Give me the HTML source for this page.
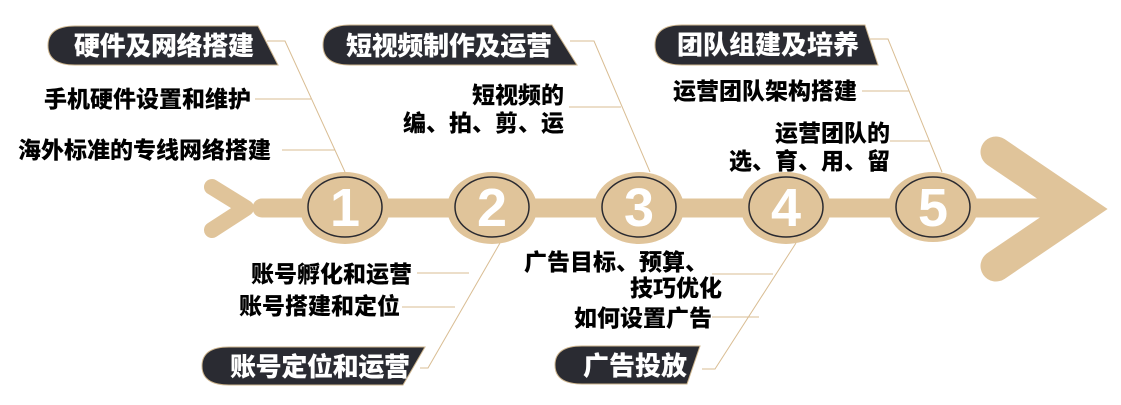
<!DOCTYPE html>
<html><head><meta charset="utf-8"><style>
html,body{margin:0;padding:0;background:#fff;width:1121px;height:405px;overflow:hidden}
svg text{font-family:"Liberation Sans","Noto Sans CJK SC",sans-serif;font-weight:900}
</style></head><body>
<svg width="1121" height="405" viewBox="0 0 1121 405" xmlns="http://www.w3.org/2000/svg">
<g stroke="#d9bd93" stroke-width="1" fill="none">
<polyline points="267,41 285,41 345,172"/>
<line x1="255" y1="99" x2="311" y2="99"/>
<line x1="282" y1="150" x2="335" y2="150"/>
<polyline points="570,41 594,41 650,172"/>
<line x1="569" y1="107" x2="621" y2="107"/>
<polyline points="865,39 888,39 942,172"/>
<line x1="862" y1="91" x2="909" y2="91"/>
<line x1="890" y1="141" x2="930" y2="141"/>
<polyline points="500,243 428,368 420,368"/>
<line x1="417" y1="273" x2="469" y2="273"/>
<line x1="402" y1="307" x2="455" y2="307"/>
<polyline points="796,243 715,369 702,369"/>
<line x1="712" y1="274" x2="773" y2="274"/>
<line x1="712" y1="317" x2="759" y2="317"/>
</g>
<g stroke="#e0c49a" fill="none" stroke-linecap="round">
<polyline points="212,187 246,208 212,230" stroke-width="16" stroke-linejoin="round"/>
<line x1="262" y1="208" x2="1060" y2="208" stroke-width="19" stroke-linecap="round"/>
<polyline points="996,152 1080,209 996,266" stroke-width="31" stroke-linejoin="miter" stroke-miterlimit="10"/>
</g>
<g fill="#e0c49a">
<ellipse cx="345" cy="208" rx="45" ry="36"/>
<ellipse cx="492" cy="208" rx="45" ry="36"/>
<ellipse cx="639" cy="208" rx="45" ry="36"/>
<ellipse cx="786" cy="208" rx="45" ry="36"/>
<ellipse cx="933" cy="207" rx="45" ry="35"/>
</g>
<g fill="none" stroke="#2a2a30" stroke-width="1.5">
<ellipse cx="345" cy="207" rx="37" ry="30"/>
<ellipse cx="492" cy="207" rx="37" ry="30"/>
<ellipse cx="639" cy="207" rx="37" ry="30"/>
<ellipse cx="786" cy="207" rx="37" ry="30"/>
<ellipse cx="933" cy="207" rx="37" ry="30"/>
</g>
<g fill="#fff" font-size="54" text-anchor="middle">
<text x="345" y="226">1</text><text x="492" y="226">2</text><text x="639" y="226">3</text><text x="786" y="226">4</text><text x="933" y="226">5</text>
</g>
<g fill="#2a2b32" stroke="#cdb58e" stroke-width="1">
<path d="M75,26 L258,26 L278,65 L75,65 Q48,65 48,45.5 Q48,26 75,26Z"/>
<path d="M350,25 L552,25 L577,65 L350,65 Q323,65 323,45 Q323,25 350,25Z"/>
<path d="M682,25 L865,25 L878,65 L682,65 Q655,65 655,45 Q655,25 682,25Z"/>
<path d="M229,347 L425,347 L403,385 L229,385 Q202,385 202,366 Q202,347 229,347Z"/>
<path d="M582,346 L700,346 L687,384 L582,384 Q555,384 555,365 Q555,346 582,346Z"/>
</g>
<g fill="#fff" font-size="26">
<text x="74" y="55" textLength="180">硬件及网络搭建</text>
<text x="346" y="55" textLength="206">短视频制作及运营</text>
<text x="677" y="54" textLength="182">团队组建及培养</text>
<text x="230" y="376" textLength="180">账号定位和运营</text>
<text x="583" y="375" textLength="104">广告投放</text>
</g>
<g fill="#000" font-size="23" text-anchor="end">
<text x="251" y="107">手机硬件设置和维护</text>
<text x="271" y="158">海外标准的专线网络搭建</text>
<text x="564" y="103">短视频的</text>
<text x="564" y="131">编、拍、剪、运</text>
<text x="857" y="99">运营团队架构搭建</text>
<text x="890" y="141">运营团队的</text>
<text x="890" y="169">选、育、用、留</text>
<text x="412" y="282">账号孵化和运营</text>
<text x="400" y="314">账号搭建和定位</text>
<text x="708" y="270">广告目标、预算、</text>
<text x="722" y="296">技巧优化</text>
<text x="712" y="326">如何设置广告</text>
</g>
</svg>
</body></html>
